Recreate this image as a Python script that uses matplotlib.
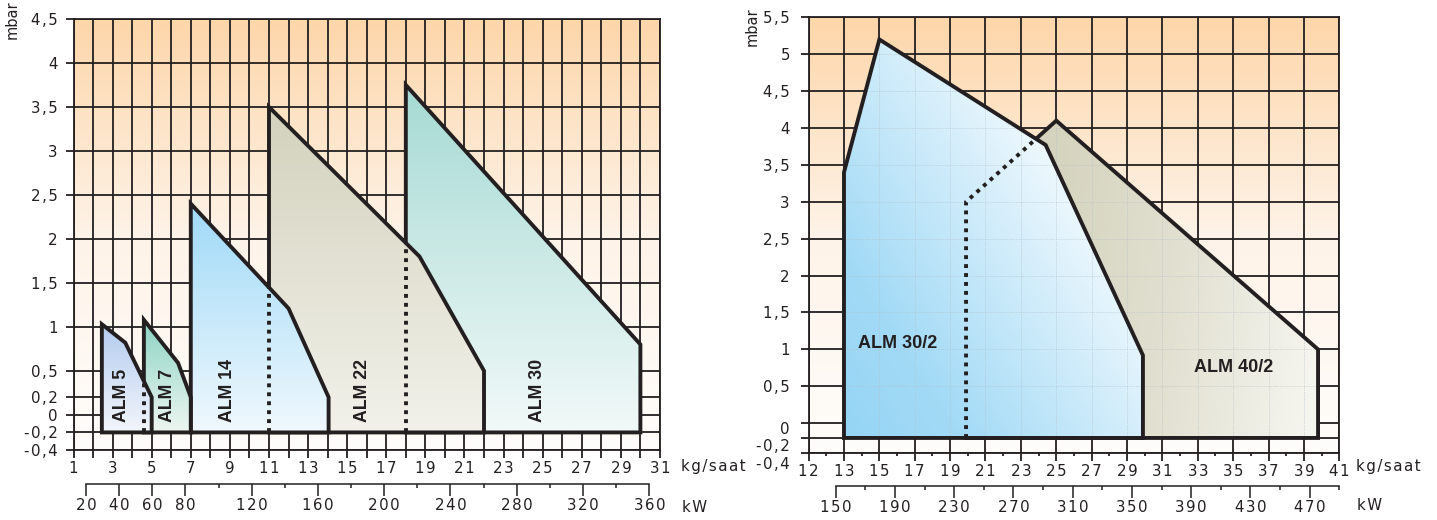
import numpy as np
import matplotlib
matplotlib.use("Agg")
import matplotlib.pyplot as plt
from matplotlib.colors import LinearSegmentedColormap
from matplotlib.patches import Polygon
from matplotlib.transforms import ScaledTranslation

plt.rcParams["font.family"] = ["DejaVu Sans"]

INK = "#231f20"

# ---------------- left chart: ALM 5 ... ALM 30 (kg/saat vs mbar)
left_names = ["ALM 5", "ALM 7", "ALM 14", "ALM 22", "ALM 30"]
alm5_x = [2.45, 2.45, 3.65, 5.0, 5.0]
alm5_y = [-0.2, 1.03, 0.82, 0.2, -0.2]
alm7_x = [4.6, 4.6, 6.35, 7.0, 7.0]
alm7_y = [-0.2, 1.08, 0.59, 0.2, -0.2]
alm14_x = [7.0, 7.0, 12.0, 14.05, 14.05]
alm14_y = [-0.2, 2.4, 1.21, 0.2, -0.2]
alm22_x = [11.0, 11.0, 18.7, 22.0, 22.0]
alm22_y = [-0.2, 3.5, 1.8, 0.5, -0.2]
alm30_x = [18.0, 18.0, 30.0, 30.0]
alm30_y = [-0.2, 3.75, 0.8, -0.2]
left_label_x = [3.45, 5.8, 8.9, 15.8, 24.75]
left_top_colors = ["#b3ccef", "#8cd3c3", "#a0daf8", "#d3d2bd", "#a6dad4"]
left_bottom_colors = ["#f2f5fb", "#edf6f1", "#eff8fd", "#f2f1ea", "#f1f9f8"]

left_yticks = [-0.4, -0.2, 0, 0.2, 0.5, 1, 1.5, 2, 2.5, 3, 3.5, 4, 4.5]
left_kg_ticks = list(range(1, 32))
left_kw_major = [20, 40, 60, 80, 120, 160, 200, 240, 280, 320, 360]
left_kw_minor = list(range(20, 361, 20))

# ---------------- right chart: ALM 30/2, ALM 40/2
right_names = ["ALM 30/2", "ALM 40/2"]
alm30_2_x = [13.0, 13.0, 15.0, 24.4, 29.9, 29.9]
alm30_2_y = [-0.2, 3.4, 5.2, 3.77, 0.92, -0.2]
alm40_2_x = [19.9, 19.9, 25.0, 39.8, 39.8]
alm40_2_y = [-0.2, 3.0, 4.1, 1.0, -0.2]

right_yticks = [-0.4, -0.2, 0, 0.5, 1, 1.5, 2, 2.5, 3, 3.5, 4, 4.5, 5, 5.5]
right_kg_labels = [12] + list(range(13, 42, 2))
right_kw_major = [150, 190, 230, 270, 310, 350, 390, 430, 470]
right_kw_minor = list(range(150, 491, 20))

HAIR = "\u200a"


def spaced(s):
    # the print font is loosely tracked
    return HAIR.join(s)


def comma(v):
    return spaced(f"{v:g}".replace(".", ","))


bg_cmap = LinearSegmentedColormap.from_list("bg", ["#fffdfb", "#fef3e8", "#fdd6aa"])
LBL = 10.8

fig = plt.figure(figsize=(14.37, 5.2), dpi=100)


def style_main(ax, xlim, ylim, yticks, ypad):
    ax.imshow(np.linspace(1, 0, 256).reshape(-1, 1), extent=[*xlim, *ylim],
              aspect="auto", cmap=bg_cmap, origin="upper", zorder=0)
    ax.set_axisbelow(True)
    ax.grid(True, which="major", color=INK, lw=1.3)
    for s in ax.spines.values():
        s.set_color(INK)
        s.set_linewidth(1.3)
    ax.set_yticks(yticks)
    ax.set_yticklabels([comma(v) for v in yticks])
    ax.tick_params(axis="both", which="both", direction="out", color=INK,
                   labelcolor=INK, labelsize=LBL, width=1.3)
    ax.tick_params(axis="y", length=6, pad=ypad)
    ax.tick_params(axis="x", which="major", length=6, pad=2)
    ax.tick_params(axis="x", which="minor", length=2.5)


def grad_poly(ax, xs, ys, cmap, field, z):
    patch = Polygon(np.column_stack([xs, ys]), closed=True, fc="none", ec=INK,
                    lw=2.8, joinstyle="miter", zorder=z + 0.5)
    ax.add_patch(patch)
    gx = np.linspace(min(xs), max(xs), 300)
    gy = np.linspace(max(ys), min(ys), 300)
    X, Y = np.meshgrid(gx, gy)
    im = ax.imshow(field(X, Y), extent=[min(xs), max(xs), min(ys), max(ys)],
                   aspect="auto", cmap=cmap, vmin=0, vmax=1, origin="upper",
                   zorder=z, interpolation="bilinear")
    im.set_clip_path(patch)
    return patch


def hidden_edge(ax, xs, ys, clip, z):
    ln, = ax.plot(xs, ys, color=INK, lw=2.8, ls=(0, (1, 1.3)),
                  solid_capstyle="butt", dash_capstyle="butt", zorder=z)
    ln.set_clip_path(clip)


# ---------------- left chart
axL = fig.add_axes([0.05115, 0.1346, 0.4081, 0.8288])
style_main(axL, (1, 31), (-0.4, 4.5), left_yticks, ypad=5.5)
axL.set_xticks(left_kg_ticks)
axL.set_xticklabels([spaced(str(v)) if v % 2 else "" for v in left_kg_ticks])

left_polys = [(alm5_x, alm5_y), (alm7_x, alm7_y), (alm14_x, alm14_y),
              (alm22_x, alm22_y), (alm30_x, alm30_y)]
patches = {}
for k in range(len(left_polys) - 1, -1, -1):
    xs, ys = left_polys[k]
    cm = LinearSegmentedColormap.from_list(left_names[k], [left_bottom_colors[k], left_top_colors[k]])
    top, bot = max(ys), min(ys)
    patches[k] = grad_poly(axL, xs, ys, cm,
                           lambda X, Y, t=top, b=bot: (Y - b) / (t - b),
                           z=2 + 2 * (len(left_polys) - k))
# left edges of bigger models hidden under the smaller ones
for k in range(len(left_polys) - 1):
    nx, ny = left_polys[k + 1]
    hidden_edge(axL, nx[:2], ny[:2], patches[k], z=20)

for k, name in enumerate(left_names):
    axL.text(left_label_x[k], -0.08, name, rotation=90, ha="center", va="bottom",
             fontsize=12.8, fontweight="bold", family="Liberation Sans",
             color=INK, zorder=25)
axL.set_xlim(1, 31)
axL.set_ylim(-0.4, 4.5)

# kW scale under the left chart
kwL = fig.add_axes([0.05115, 0.0692, 0.4081, 0.0001])
kw_of_left = lambda x: 20 + 11.80 * (x - 1.64)
kwL.set_xlim(kw_of_left(1), kw_of_left(31))

# ---------------- right chart
axR = fig.add_axes([0.5627, 0.1294, 0.3693, 0.8373])
style_main(axR, (11, 41), (-0.4, 5.5), right_yticks, ypad=7.5)
kg_pos = [11] + right_kg_labels[1:]
axR.set_xticks(kg_pos)
axR.set_xticklabels([spaced(str(v)) for v in right_kg_labels])
axR.set_xticks(list(range(12, 41, 2)), minor=True)

px_x, px_y = 17.69, 73.8
cm40 = LinearSegmentedColormap.from_list("a40", ["#d3d1ba", "#e2e1d2", "#fafaf6"])
p40 = grad_poly(axR, alm40_2_x, alm40_2_y, cm40,
                lambda X, Y: np.clip(0.0028 * (X - 25) * px_x + 0.0004 * (4.1 - Y) * px_y + 0.08, 0, 1),
                z=3)
cm30 = LinearSegmentedColormap.from_list(
    "a30", [(0, "#96d5f5"), (0.22, "#a2daf6"), (0.85, "#ffffff"), (1, "#ffffff")])
p30 = grad_poly(axR, alm30_2_x, alm30_2_y, cm30,
                lambda X, Y: np.clip(0.0019 * (X - 13) * px_x + 0.0012 * (Y + 0.2) * px_y, 0, 1),
                z=5)
# faint grid seen through the fills
for p in (p40, p30):
    for gx in range(13, 41, 2):
        ln, = axR.plot([gx, gx], [-0.4, 5.5], color="#b4c0c8", lw=0.5,
                       ls=(0, (1, 1.5)), zorder=p.get_zorder() - 0.2)
        ln.set_clip_path(p)
    for gy in np.arange(0.5, 5.5, 0.5):
        ln, = axR.plot([11, 41], [gy, gy], color="#b4c0c8", lw=0.5,
                       ls=(0, (1, 1.5)), zorder=p.get_zorder() - 0.2)
        ln.set_clip_path(p)
hidden_edge(axR, alm40_2_x[:3], alm40_2_y[:3], p30, z=20)

axR.text(13.79, 1.08, right_names[0], ha="left", va="center", fontsize=13,
         fontweight="bold", family="Liberation Sans", color=INK, zorder=25)
axR.text(35.0, 0.76, right_names[1], ha="center", va="center", fontsize=13,
         fontweight="bold", family="Liberation Sans", color=INK, zorder=25)
axR.set_xlim(11, 41)
axR.set_ylim(-0.4, 5.5)

kwR = fig.add_axes([0.5627, 0.0660, 0.3693, 0.0001])
kw_of_right = lambda x: 131.75 + 11.91 * (x - 11)
kwR.set_xlim(kw_of_right(11), kw_of_right(41))

for kax, major, minor in ((kwL, left_kw_major, left_kw_minor),
                          (kwR, right_kw_major, right_kw_minor)):
    kax.patch.set_visible(False)
    for s in ("left", "right", "top"):
        kax.spines[s].set_visible(False)
    kax.spines["bottom"].set_color(INK)
    kax.spines["bottom"].set_linewidth(1.1)
    kax.spines["bottom"].set_bounds(major[0], minor[-1])
    kax.set_yticks([])
    kax.set_xticks(major)
    kax.set_xticklabels([spaced(str(v)) for v in major])
    kax.set_xticks(minor, minor=True)
    kax.tick_params(axis="x", which="major", length=8.5, width=1.1, color=INK,
                    labelcolor=INK, labelsize=LBL, pad=1.5)
    kax.tick_params(axis="x", which="minor", length=3, width=1.1, color=INK)

# crowded labels at the bottom of the right scale sit a little lower
shift_pt = {0: 3.6, -0.2: 5.3, -0.4: 7.2}
for lbl, v in zip(axR.get_yticklabels(), right_yticks):
    if v in shift_pt:
        lbl.set_transform(lbl.get_transform() + ScaledTranslation(0, -shift_pt[v] / 72, fig.dpi_scale_trans))

# unit labels
fig.text(681 / 1437, 1 - 467 / 520, spaced("kg/saat"), ha="left", va="center", fontsize=LBL, color=INK)
fig.text(682 / 1437, 1 - 507 / 520, spaced("kW"), ha="left", va="center", fontsize=LBL, color=INK)
fig.text(1356 / 1437, 1 - 467 / 520, spaced("kg/saat"), ha="left", va="center", fontsize=LBL, color=INK)
fig.text(1357 / 1437, 1 - 505 / 520, spaced("kW"), ha="left", va="center", fontsize=LBL, color=INK)
fig.text(12 / 1437, 1 - 20 / 520, "mbar", rotation=90, ha="center", va="center", fontsize=10.5, color=INK)
fig.text(752 / 1437, 1 - 27 / 520, "mbar", rotation=90, ha="center", va="center", fontsize=10.5, color=INK)

fig.savefig("out.png", dpi=100)
